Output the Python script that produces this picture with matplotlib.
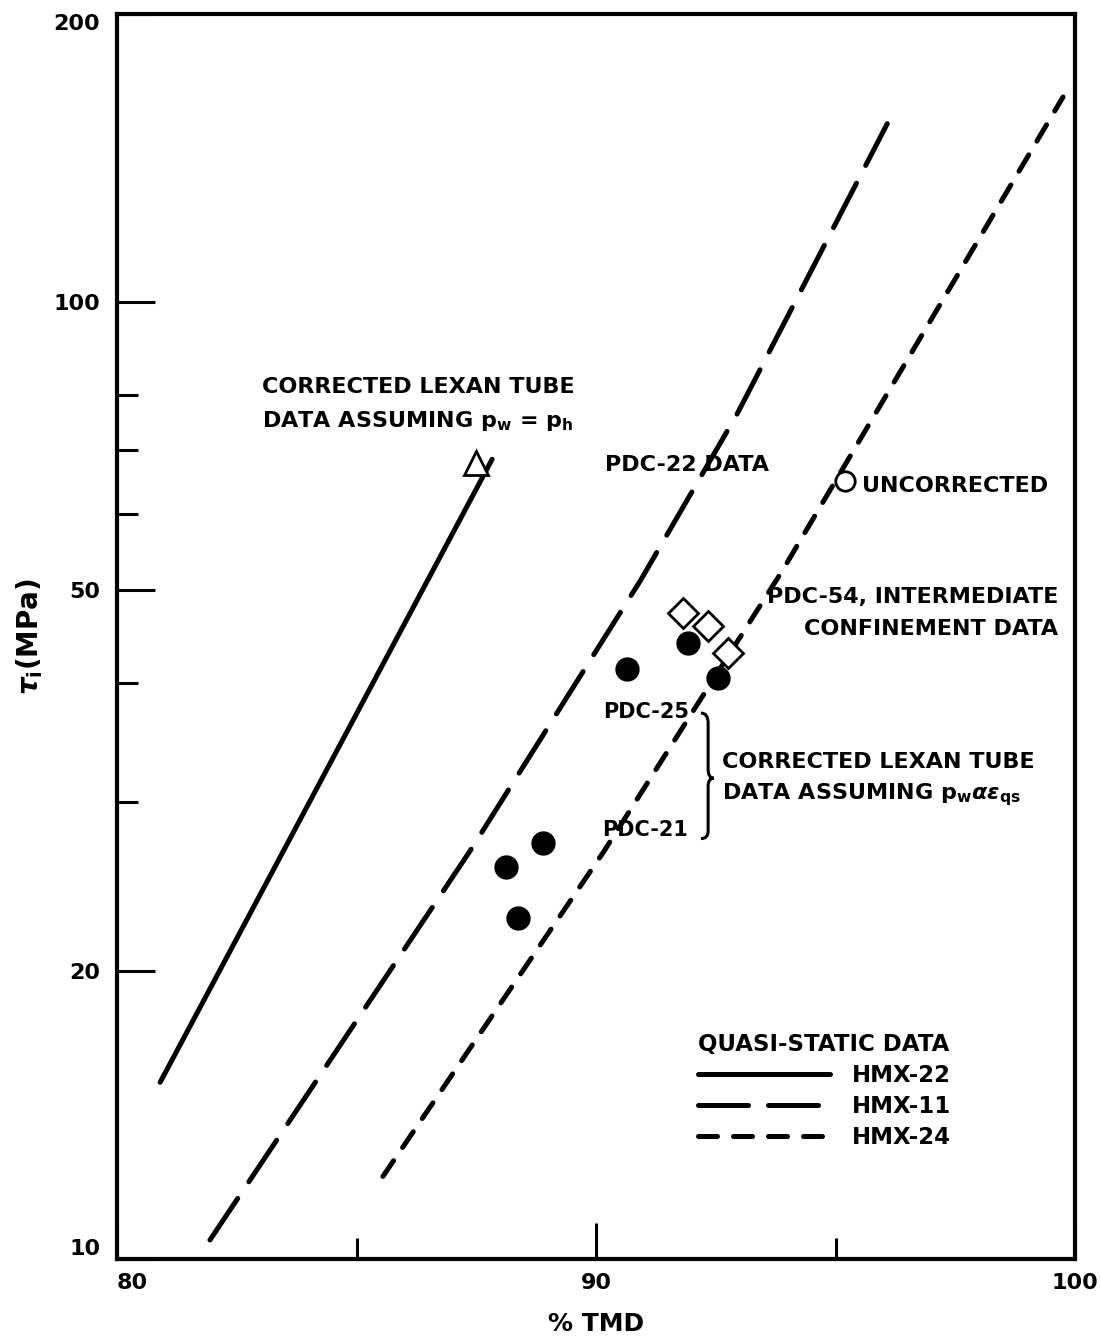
import matplotlib
matplotlib.use("Agg")
import matplotlib.pyplot as plt
from matplotlib.path import Path
from matplotlib.patches import PathPatch
from matplotlib.ticker import FixedLocator, NullFormatter
import numpy as np

plt.rcParams['font.family'] = ['DejaVu Sans']
plt.rcParams['font.weight'] = 'bold'
plt.rcParams['axes.labelweight'] = 'bold'
plt.rcParams['mathtext.fontset'] = 'custom'
plt.rcParams['mathtext.rm'] = 'DejaVu Sans:bold'
plt.rcParams['mathtext.it'] = 'DejaVu Sans:bold:italic'
plt.rcParams['mathtext.bf'] = 'DejaVu Sans:bold'
plt.rcParams['mathtext.sf'] = 'DejaVu Sans:bold'

# quasi-static fits (%TMD vs MPa)
hmx22_x = [80.90, 87.83]
hmx22_y = [15.3, 68.5]
hmx11_x = [81.94, 87.37, 90.92, 92.94, 96.08]
hmx11_y = [10.47, 26.7, 51.1, 76.3, 153.6]
hmx24_x = [85.55, 90.15, 93.88, 99.75]
hmx24_y = [12.2, 26.6, 52.3, 163.8]

# PDC-22 lexan tube data, assuming pw proportional to eps_qs
pdc_x = [90.65, 91.92, 92.55, 88.89, 88.12, 88.37]
pdc_y = [41.4, 44.0, 40.5, 27.2, 25.7, 22.7]
# PDC-54, intermediate confinement
pdc54_x = [91.82, 92.34, 92.76]
pdc54_y = [47.3, 45.9, 43.0]
# corrected, assuming pw = ph
tri_x = [87.49]
tri_y = [67.9]
# uncorrected
unc_x = [95.20]
unc_y = [65.0]

fig = plt.figure(figsize=(11, 13.43), dpi=100)
ax = fig.add_axes([0.1064, 0.0625, 0.8709, 0.9271])
ax.set_yscale('log')
ax.set_xlim(80, 100)
ax.set_ylim(10, 200)

lw = 3.6
l22, = ax.plot(hmx22_x, hmx22_y, color='black', lw=lw, solid_capstyle='round')
l11, = ax.plot(hmx11_x, hmx11_y, color='black', lw=lw, linestyle=(0, (10, 4)),
               dash_capstyle='round')
l24, = ax.plot(hmx24_x, hmx24_y, color='black', lw=lw, linestyle=(0, (3.8, 3.2)),
               dash_capstyle='round')

ax.plot(pdc_x, pdc_y, 'o', color='black', ms=16.5, zorder=5)
ax.plot(pdc54_x, pdc54_y, 'D', mfc='white', mec='black', mew=2.0, ms=15, zorder=5)
ax.plot(tri_x, tri_y, '^', mfc='white', mec='black', mew=2.0, ms=17, zorder=5)
ax.plot(unc_x, unc_y, 'o', mfc='white', mec='black', mew=2.0, ms=14, zorder=5)

fs = 16
ax.text(83.03, 80.3, 'CORRECTED LEXAN TUBE', fontsize=fs, va='baseline')
ax.text(83.03, 74.1, r'DATA ASSUMING $\mathrm{p_w}$ = $\mathrm{p_h}$', fontsize=fs, va='baseline')
ax.text(90.19, 66.6, 'PDC-22 DATA', fontsize=fs, va='baseline')
ax.text(95.55, 63.3, 'UNCORRECTED', fontsize=fs, va='baseline')
ax.text(99.65, 48.5, 'PDC-54, INTERMEDIATE', fontsize=fs, va='baseline', ha='right')
ax.text(99.65, 44.9, 'CONFINEMENT DATA', fontsize=fs, va='baseline', ha='right')
ax.text(90.15, 36.8, 'PDC-25', fontsize=15, va='baseline')
ax.text(90.13, 27.7, 'PDC-21', fontsize=15, va='baseline')
ax.text(92.63, 32.6, 'CORRECTED LEXAN TUBE', fontsize=fs, va='baseline')
ax.text(92.63, 30.2, r'DATA ASSUMING $\mathrm{p_w}\alpha\epsilon_{\mathrm{qs}}$',
        fontsize=fs, va='baseline')

# brace between PDC-25 and PDC-21
verts = [(92.19, 37.2), (92.34, 37.2), (92.34, 36.3), (92.34, 32.5),
         (92.34, 31.8), (92.46, 31.8), (92.34, 31.8), (92.34, 31.2),
         (92.34, 28.0), (92.34, 27.5), (92.19, 27.5)]
codes = [Path.MOVETO, Path.CURVE3, Path.CURVE3, Path.LINETO,
         Path.CURVE3, Path.CURVE3, Path.CURVE3, Path.CURVE3,
         Path.LINETO, Path.CURVE3, Path.CURVE3]
ax.add_patch(PathPatch(Path(verts, codes), fill=False, lw=2.2, color='black'))

leg = ax.legend([l22, l11, l24], ['HMX-22', 'HMX-11', 'HMX-24'],
                title='QUASI-STATIC DATA', loc='upper left',
                bbox_to_anchor=(0.594, 0.191), frameon=False, fontsize=16.5,
                title_fontsize=16.5, handlelength=5.8, handletextpad=0.95,
                labelspacing=0.36, alignment='left', borderpad=0)
leg.get_title().set_fontweight('bold')

# axes, ticks
for s in ax.spines.values():
    s.set_linewidth(3)
ax.set_xticks([80, 90, 100])
ax.set_xticklabels(['80', '90', '100'])
ax.xaxis.set_minor_locator(FixedLocator([85, 95]))
ax.yaxis.set_major_locator(FixedLocator([10, 20, 50, 100, 200]))
ax.yaxis.set_minor_locator(FixedLocator([30, 40, 60, 70, 80]))
ax.set_yticklabels(['10', '20', '50', '100', '200'])
ax.yaxis.set_minor_formatter(NullFormatter())
ax.tick_params(which='major', direction='in', length=26, width=2.2, labelsize=16, pad=10)
ax.tick_params(which='minor', direction='in', length=15, width=2.2)
ax.tick_params(axis='y', which='major', length=27, pad=12)

xl = ax.get_xticklabels()
xl[0].set_horizontalalignment('left')
yl = ax.get_yticklabels()
yl[0].set_verticalalignment('bottom')
yl[-1].set_verticalalignment('top')

ax.set_xlabel('% TMD', fontsize=18, labelpad=14)
ax.set_ylabel(r'$\tau_{\mathrm{i}}$(MPa)', fontsize=20, labelpad=6)

fig.savefig('out.png', dpi=100)
